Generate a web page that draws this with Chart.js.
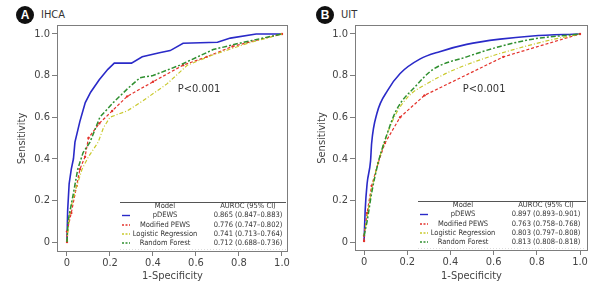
<!DOCTYPE html>
<html>
<head>
<meta charset="utf-8">
<script src="https://cdn.jsdelivr.net/npm/chart.js@4.4.1/dist/chart.umd.min.js"></script>
<style>
  body { margin: 0; background: #fff; width: 601px; height: 286px; position: relative; overflow: hidden;
         font-family: "Liberation Sans Narrow", "DejaVu Sans Condensed", sans-serif; }
  canvas { position: absolute; top: 0; }
  .badge { position: absolute; top: 6px; width: 18px; height: 18px; border-radius: 50%; background: #111;
           color: #fff; font: bold 12px "Liberation Sans", sans-serif; text-align: center; line-height: 18px; }
  .tag { position: absolute; top: 8px; font-size: 11px; line-height: 13px; color: #333; }
</style>
</head>
<body>
<div class="badge" style="left:16px">A</div><div class="tag" style="left:41px">IHCA</div>
<div class="badge" style="left:316px">B</div><div class="tag" style="left:341px">UIT</div>
<canvas id="chartA" width="300" height="286" style="left:0"></canvas>
<canvas id="chartB" width="301" height="286" style="left:300px"></canvas>
<script>
// ---- data: [1-specificity, sensitivity] ----
const models = ['pDEWS', 'Modified PEWS', 'Logistic Regression', 'Random Forest'];
const tickValues = [0, 0.2, 0.4, 0.6, 0.8, 1.0];

// A: IHCA
const ihcaPdews = [[0,0],[0.003,0.15],[0.01,0.28],[0.02,0.35],[0.03,0.40],[0.037,0.48],[0.06,0.58],[0.085,0.67],
  [0.11,0.72],[0.15,0.78],[0.19,0.83],[0.22,0.86],[0.30,0.86],[0.35,0.89],[0.43,0.91],[0.48,0.92],[0.54,0.955],
  [0.70,0.96],[0.76,0.98],[0.88,1.0],[1,1]];
const ihcaMpews = [[0,0],[0,0.05],[0.02,0.14],[0.045,0.27],[0.06,0.35],[0.084,0.41],[0.10,0.50],[0.15,0.57],
  [0.21,0.63],[0.28,0.70],[0.40,0.77],[0.54,0.85],[0.65,0.89],[0.77,0.94],[1,1]];
const ihcaLogit = [[0,0],[0.014,0.15],[0.04,0.25],[0.07,0.35],[0.10,0.41],[0.145,0.48],[0.17,0.55],[0.20,0.60],
  [0.28,0.63],[0.355,0.68],[0.465,0.76],[0.56,0.85],[0.68,0.90],[0.84,0.955],[1,1]];
const ihcaForest = [[0,0],[0.005,0.10],[0.03,0.235],[0.05,0.35],[0.075,0.43],[0.107,0.48],[0.153,0.60],
  [0.215,0.67],[0.285,0.74],[0.34,0.79],[0.40,0.80],[0.525,0.85],[0.68,0.925],[0.80,0.955],[1,1]];
const ihcaAuroc = ['0.865 (0.847–0.883)', '0.776 (0.747–0.802)', '0.741 (0.713–0.764)', '0.712 (0.688–0.736)'];

// B: UIT
const uitPdews = [[0,0],[0.005,0.15],[0.014,0.28],[0.03,0.39],[0.035,0.475],[0.06,0.62],[0.11,0.73],
  [0.167,0.81],[0.26,0.88],[0.35,0.915],[0.475,0.95],[0.63,0.975],[0.78,0.99],[1,1]];
const uitMpews = [[0,0.005],[0,0.03],[0.014,0.14],[0.035,0.27],[0.065,0.38],[0.097,0.476],[0.167,0.60],
  [0.28,0.705],[0.645,0.89],[1,1]];
const uitLogit = [[0,0.03],[0.014,0.12],[0.035,0.25],[0.065,0.38],[0.097,0.49],[0.15,0.62],[0.21,0.705],
  [0.29,0.76],[0.40,0.82],[0.55,0.88],[0.71,0.93],[0.86,0.97],[1,1]];
const uitForest = [[0,0.03],[0.014,0.10],[0.035,0.235],[0.065,0.38],[0.097,0.49],[0.15,0.635],[0.235,0.745],
  [0.32,0.83],[0.475,0.89],[0.63,0.94],[0.78,0.975],[1,1]];
const uitAuroc = ['0.897 (0.893–0.901)', '0.763 (0.758–0.768)', '0.803 (0.797–0.808)', '0.813 (0.808–0.818)'];

const pValue = 'P<0.001';

// ---- styles ----
const FONT = '"Liberation Sans Narrow", "DejaVu Sans Condensed", sans-serif';
const styles = [
  { color: '#2a2ac8', dash: [], width: 1.6, radius: 0, smooth: true },
  { color: '#e4322b', dash: [3, 2], width: 1.2, radius: 1.2, smooth: false },
  { color: '#c9c92c', dash: [4, 2, 1, 2], width: 1.2, radius: 0, smooth: true },
  { color: '#2f8f2f', dash: [5, 2, 2, 2], width: 1.5, radius: 0, smooth: true }
];

const boxLegend = {
  id: 'boxLegend',
  afterDatasetsDraw(chart, args, opts) {
    const { ctx, chartArea: a, scales: { x, y } } = chart;
    ctx.save();
    ctx.strokeStyle = '#7d7d7d';
    ctx.lineWidth = 1;
    ctx.strokeRect(a.left + 0.5, a.top + 0.5, a.right - a.left - 1, a.bottom - a.top - 1);

    ctx.fillStyle = '#333';
    ctx.font = '11px ' + FONT;
    ctx.textAlign = 'center';
    ctx.textBaseline = 'middle';
    ctx.fillText(pValue, x.getPixelForValue(opts.px), y.getPixelForValue(opts.py));

    // legend table
    const L = a.left, B = a.bottom;
    ctx.strokeStyle = '#555';
    ctx.beginPath(); ctx.moveTo(L + 63, B - 49.5); ctx.lineTo(a.right - 2, B - 49.5); ctx.stroke();
    ctx.strokeStyle = '#ddd'; ctx.setLineDash([1, 2]);
    ctx.beginPath(); ctx.moveTo(L + 63, B - 2.5); ctx.lineTo(a.right - 2, B - 2.5); ctx.stroke();
    ctx.setLineDash([]);

    ctx.font = '7.5px ' + FONT;
    ctx.fillStyle = '#333';
    ctx.fillText('Model', L + 108, B - 45.5);
    ctx.fillText('AUROC (95% CI)', L + 191, B - 45.5);
    const rowY = [B - 36.5, B - 27, B - 18, B - 9];
    models.forEach((m, i) => {
      const s = styles[i];
      ctx.strokeStyle = s.color;
      ctx.lineWidth = 1.4;
      ctx.setLineDash(i === 0 ? [] : [2, 1.5]);
      ctx.beginPath(); ctx.moveTo(L + 65, rowY[i]); ctx.lineTo(L + 73, rowY[i]); ctx.stroke();
      ctx.setLineDash([]);
      ctx.fillStyle = '#333';
      ctx.fillText(m, L + 108, rowY[i]);
      ctx.fillText(opts.auroc[i], L + 191, rowY[i]);
    });
    ctx.restore();
  }
};

function makeChart(id, series, auroc, geo) {
  const datasets = series.map((pts, i) => ({
    label: models[i],
    data: pts.map(p => ({ x: p[0], y: p[1] })),
    borderColor: styles[i].color,
    backgroundColor: styles[i].color,
    borderWidth: styles[i].width,
    borderDash: styles[i].dash,
    pointRadius: styles[i].radius,
    pointBorderWidth: 0,
    cubicInterpolationMode: geo.smooth && styles[i].smooth ? 'monotone' : 'default',
    tension: 0,
    fill: false
  })).reverse();

  const tickFmt = v => (v === 0 ? '0' : v.toFixed(1));
  const setTicks = axis => { axis.ticks = tickValues.map(v => ({ value: v })); };

  return new Chart(document.getElementById(id), {
    type: 'line',
    data: { datasets },
    options: {
      responsive: false,
      animation: false,
      devicePixelRatio: 1,
      layout: { padding: { top: 25, right: geo.padRight, left: 0, bottom: 0 } },
      plugins: {
        legend: { display: false },
        tooltip: { enabled: false },
        boxLegend: { auroc, px: geo.px, py: 0.735 }
      },
      scales: {
        x: {
          type: 'linear', min: geo.xmin, max: geo.xmax,
          afterBuildTicks: setTicks,
          afterFit: s => { s.height = geo.xh; },
          grid: { drawOnChartArea: false, color: '#7d7d7d', tickLength: 4 },
          border: { display: false },
          ticks: { color: '#444', font: { family: FONT, size: 11 }, padding: 1, callback: tickFmt, maxRotation: 0 },
          title: { display: true, text: '1-Specificity', color: '#444', font: { family: FONT, size: 11 }, padding: { top: 0, bottom: 3 } }
        },
        y: {
          type: 'linear', min: geo.ymin, max: 1.043,
          afterBuildTicks: setTicks,
          afterFit: s => { s.width = geo.yw; },
          grid: { drawOnChartArea: false, color: '#7d7d7d', tickLength: 5 },
          border: { display: false },
          ticks: { color: '#444', font: { family: FONT, size: 11 }, padding: 2, callback: tickFmt },
          title: { display: true, text: 'Sensitivity', color: '#444', font: { family: FONT, size: 11 }, padding: { top: 16, bottom: 0 } }
        }
      }
    },
    plugins: [boxLegend]
  });
}

makeChart('chartA', [ihcaPdews, ihcaMpews, ihcaLogit, ihcaForest], ihcaAuroc,
  { padRight: 12, xmin: -0.0465, xmax: 1.028, ymin: -0.048, xh: 34, yw: 57, px: 0.614, smooth: false });
makeChart('chartB', [uitPdews, uitMpews, uitLogit, uitForest], uitAuroc,
  { padRight: 13, xmin: -0.042, xmax: 1.037, ymin: -0.043, xh: 35, yw: 55, px: 0.556, smooth: true });
</script>
</body>
</html>
